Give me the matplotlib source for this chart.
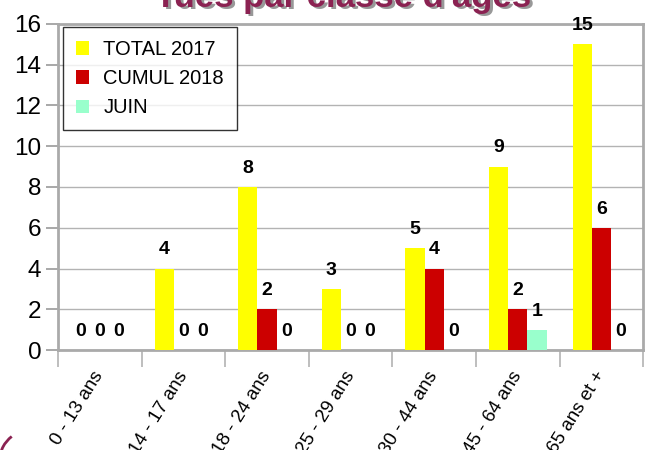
import matplotlib
matplotlib.use("Agg")
import matplotlib.pyplot as plt
import matplotlib.transforms as mtransforms
import numpy as np
from matplotlib.patches import Arc

categories = ["0 - 13 ans", "14 - 17 ans", "18 - 24 ans", "25 - 29 ans",
              "30 - 44 ans", "45 - 64 ans", "65 ans et +"]
total_2017 = [0, 4, 8, 3, 5, 9, 15]
cumul_2018 = [0, 0, 2, 0, 4, 2, 6]
juin = [0, 0, 0, 0, 0, 1, 0]
series_names = ["TOTAL 2017", "CUMUL 2018", "JUIN"]
colors = ["#FFFF00", "#CC0000", "#99FFCC"]

plt.rcParams["font.family"] = ["Liberation Sans", "DejaVu Sans"]

fig = plt.figure(figsize=(6.51, 4.5), dpi=100)
ax = fig.add_axes([0.089, 0.222, 0.899, 0.725])

x = np.arange(len(categories))
width = 0.23
series = [total_2017, cumul_2018, juin]
handles = []
for i, (vals, col) in enumerate(zip(series, colors)):
    pos = x + (i - 1) * width
    b = ax.bar(pos, vals, width, color=col, label=series_names[i], zorder=3)
    handles.append(b)
    for px, v in zip(pos, vals):
        ax.text(px, v + 0.5, str(v), ha="center", va="bottom",
                fontsize=14, fontweight="bold", zorder=4)

ax.set_xlim(-0.5, len(categories) - 0.5)
ax.set_ylim(0, 16)
ax.set_yticks(range(0, 17, 2))
ax.tick_params(axis="y", labelsize=17.5, length=9, color="#999999", width=1.2,
               pad=3)
ax.yaxis.grid(True, color="#b3b3b3", linewidth=1, zorder=0)

ax.set_xticks(x)
ax.set_xticklabels(categories, rotation=58, ha="right", rotation_mode="anchor",
                   fontsize=13.5)
ax.tick_params(axis="x", length=0, pad=13)
shift = mtransforms.ScaledTranslation(-7 / 100, 0, fig.dpi_scale_trans)
for lbl in ax.get_xticklabels():
    lbl.set_transform(lbl.get_transform() + shift)
ax.set_xticks(np.arange(-0.5, len(categories)), minor=True)
ax.tick_params(axis="x", which="minor", length=12, color="#b3b3b3", width=1.2)

for s in ax.spines.values():
    s.set_color("#aaaaaa")
    s.set_linewidth(2)

leg = ax.legend(handles=handles, loc="upper left", bbox_to_anchor=(0.009, 0.99),
                borderaxespad=0, fontsize=14.5, frameon=True, fancybox=False,
                handlelength=0.65, handleheight=0.65, handletextpad=0.7,
                labelspacing=0.5, borderpad=0.65)
leg.get_frame().set_edgecolor("black")
leg.get_frame().set_linewidth(1)

# title, clipped at the top of the image
title = "Tués par classe d'âges"
fig.text(0.531, 0.980, title, ha="center", va="baseline",
         fontsize=25, fontweight="bold", color="#444444", alpha=0.55)
fig.text(0.527, 0.984, title, ha="center", va="baseline",
         fontsize=25, fontweight="bold", color="#8B2252")

# decorative arc in the lower-left corner
fig.add_artist(Arc((0.06, -0.02), 0.12, 0.14, theta1=130, theta2=180,
                   transform=fig.transFigure, color="#8B2252", linewidth=2))

fig.savefig("out.png", dpi=100)
